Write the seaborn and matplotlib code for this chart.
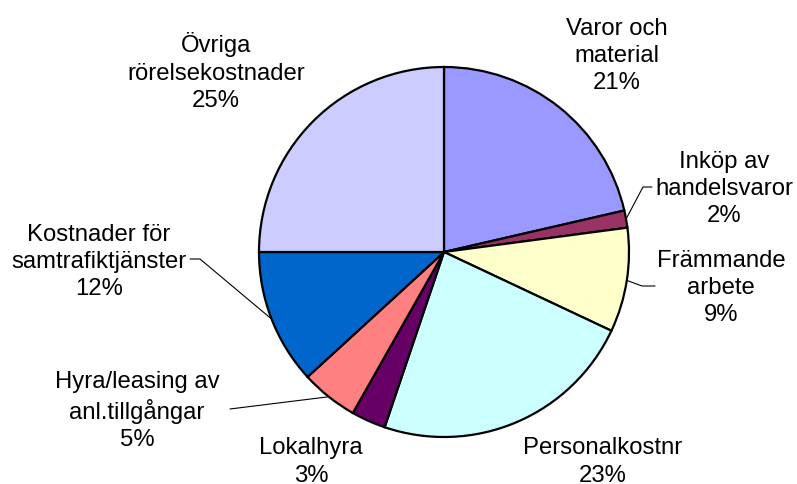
import matplotlib
matplotlib.use("Agg")
import numpy as np
import matplotlib.pyplot as plt
import seaborn as sns

# ---- data ----
categories = ["Varor och\nmaterial", "Inköp av\nhandelsvaror", "Främmande\narbete",
              "Personalkostnr", "Lokalhyra", "Hyra/leasing av\nanl.tillgångar",
              "Kostnader för\nsamtrafiktjänster", "Övriga\nrörelsekostnader"]
values = [21.4, 1.5, 9.1, 23.2, 3.0, 5.0, 11.8, 25.0]
colors = ["#9999FF", "#993366", "#FFFFCC", "#CCFFFF", "#660066", "#FF8080", "#0066CC", "#CCCCFF"]

# ---- layout (pixel coordinates, y from top) ----
W, H = 797, 485
center_px = (444, 253)
radius_px = 185
label_pos = [(617, 56), (724, 189), (721, 288), (603, 462), (311, 462),
             (137, 411), (99, 262), (216, 72)]
# leader lines: (text-side start, elbow) or None
leaders = {1: [(652, 188), (643, 188)],
           2: [(655, 287), (642, 287)],
           5: [(230, 410)],
           6: [(190, 260), (200, 260)]}

sns.set_theme(style="white")
plt.rcParams["font.family"] = ["Liberation Sans", "DejaVu Sans"]

fig = plt.figure(figsize=(W / 100, H / 100), dpi=100)
ax = fig.add_axes([0, 0, 1, 1])

cx, cy = center_px[0], H - center_px[1]
wedges, _ = ax.pie(values, colors=colors, startangle=90, counterclock=False,
                   center=(cx, cy), radius=radius_px,
                   wedgeprops=dict(edgecolor="black", linewidth=1.6))
ax.set_xlim(0, W)
ax.set_ylim(0, H)
ax.set_aspect("equal")
ax.axis("off")

for i, (cat, v) in enumerate(zip(categories, values)):
    x, y = label_pos[i]
    ax.text(x, H - y, f"{cat}\n{round(v)}%", ha="center", va="center",
            fontsize=17.2, color="black", linespacing=1.32)

for i, pts in leaders.items():
    w = wedges[i]
    mid = np.deg2rad((w.theta1 + w.theta2) / 2)
    ex, ey = cx + radius_px * np.cos(mid), cy + radius_px * np.sin(mid)
    xs = [p[0] for p in pts] + [ex]
    ys = [H - p[1] for p in pts] + [ey]
    ax.plot(xs, ys, color="black", linewidth=0.8, zorder=0)

fig.savefig("out.png", dpi=100, facecolor="white")
